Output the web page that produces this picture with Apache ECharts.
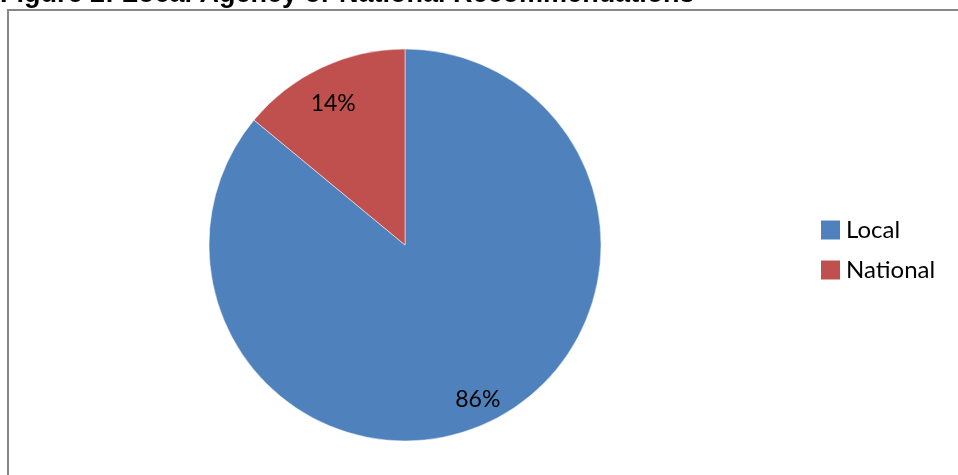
<!DOCTYPE html>
<html>
<head>
<meta charset="utf-8">
<script src="https://cdn.jsdelivr.net/npm/echarts@6/dist/echarts.min.js"></script>
<style>
html,body{margin:0;padding:0;background:#fff;}
#c{width:958px;height:475px;}
</style>
</head>
<body>
<div id="c"></div>
<script>
const titleText = 'Figure 2: Local Agency or National Recommendations';
const categories = ['Local', 'National'];
const values = [86, 14];
const colors = ['#4F81BD', '#C0504D'];

const chart = echarts.init(document.getElementById('c'), null, {renderer: 'canvas'});
const data = categories.map((c, i) => ({name: c, value: values[i], itemStyle: {color: colors[i]}}));
const labelFont = 'Lato, "Open Sans", sans-serif';

chart.setOption({
  animation: false,
  backgroundColor: '#fff',
  graphic: [
    {type: 'rect', shape: {x: 8, y: 10, width: 1000, height: 500}, style: {fill: 'none', stroke: '#878787', lineWidth: 2}, z: 0},
    {type: 'text', x: 0, y: 8, style: {text: titleText, fontFamily: '"Liberation Sans", Arial, sans-serif', fontWeight: 'bold', fontSize: 27, fill: '#000', verticalAlign: 'bottom'}, z: 10}
  ],
  legend: {
    orient: 'vertical',
    left: 814,
    top: 213,
    itemWidth: 21,
    itemHeight: 21,
    itemGap: 16,
    icon: 'rect',
    data: categories,
    textStyle: {fontFamily: labelFont, fontSize: 24, color: '#000', padding: [0, 0, 0, 0]}
  },
  series: [
    {
      type: 'pie',
      center: [405, 245],
      radius: [0, 196],
      startAngle: 90,
      clockwise: true,
      label: {show: false},
      labelLine: {show: false},
      itemStyle: {borderColor: '#fff', borderWidth: 0.5},
      emphasis: {disabled: true},
      data: data
    },
    {
      type: 'pie',
      center: [405, 245],
      radius: [140, 196],
      startAngle: 90,
      clockwise: true,
      silent: true,
      legendHoverLink: false,
      itemStyle: {color: 'transparent'},
      label: {show: true, position: 'inside', formatter: '{d}%', fontFamily: labelFont, fontSize: 23, color: '#000'},
      labelLine: {show: false},
      emphasis: {disabled: true},
      data: categories.map((c, i) => ({name: c + '_lbl', value: values[i], label: i === 1 ? {offset: [1, 13]} : {}}))
    }
  ]
});
</script>
</body>
</html>
